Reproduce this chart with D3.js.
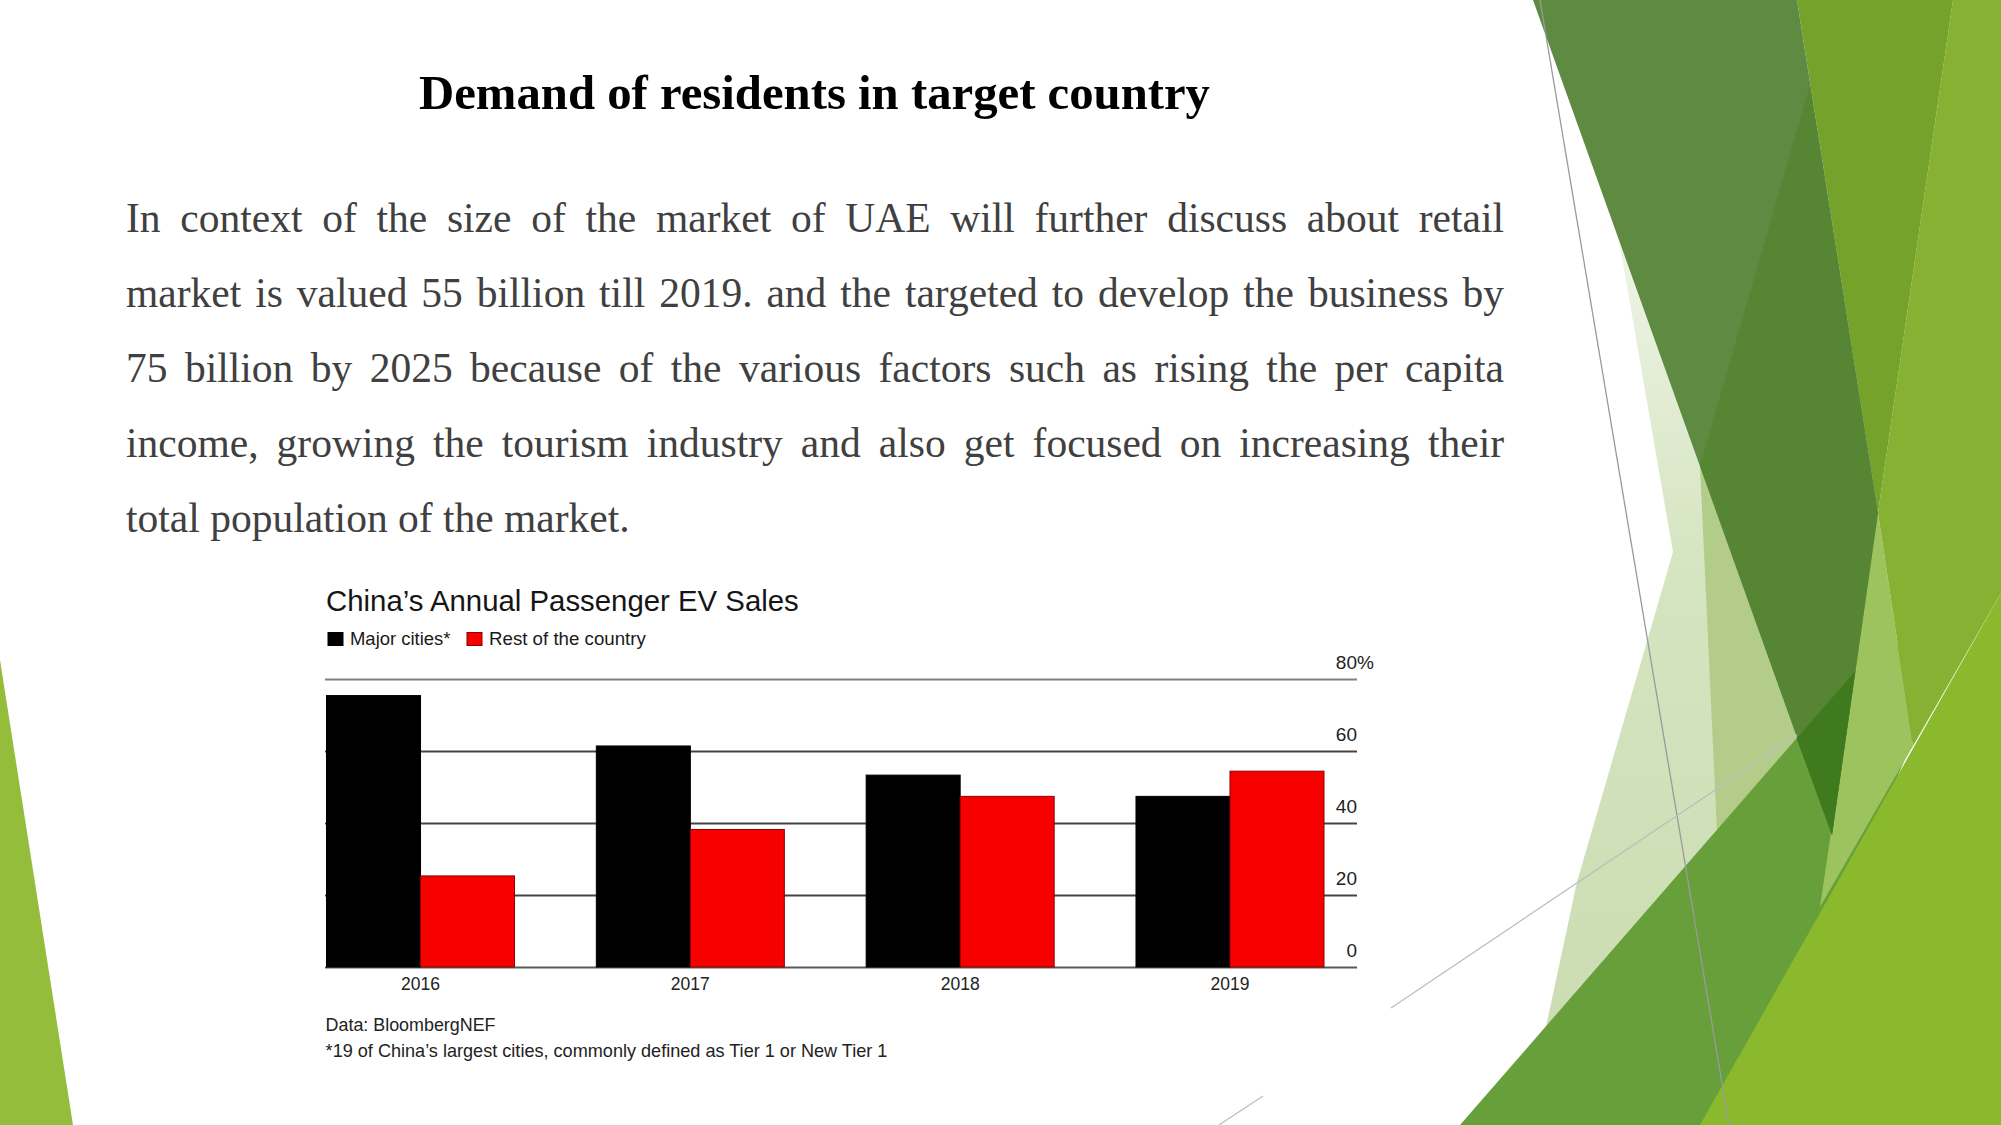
<!DOCTYPE html>
<html><head><meta charset="utf-8">
<script src="https://cdn.jsdelivr.net/npm/d3@7"></script>
<style>html,body{margin:0;padding:0;background:#fff;overflow:hidden}svg{display:block}</style>
</head><body>
<svg id="c" width="2001" height="1125"></svg>
<script>
// ---------- data ----------
const years = ["2016", "2017", "2018", "2019"];
const majorCities = [75.4, 61.4, 53.3, 47.4];
const restOfCountry = [25.3, 38.2, 47.4, 54.4];
const seriesNames = ["Major cities*", "Rest of the country"];
const seriesColors = ["#000000", "#f60000"];
const yTicks = [0, 20, 40, 60, 80];
const yTickLabels = ["0", "20", "40", "60", "80"];
const chartTitle = "China’s Annual Passenger EV Sales";
const sourceNote = "Data: BloombergNEF";
const footNote = "*19 of China’s largest cities, commonly defined as Tier 1 or New Tier 1";
const slideTitle = "Demand of residents in target country";
const paragraphLines = [
  "In context of the size of the market of UAE will further discuss about retail",
  "market is valued 55 billion till 2019. and the targeted to develop the business by",
  "75 billion by 2025 because of the various factors such as rising the per capita",
  "income, growing the tourism industry and also get focused on increasing their",
  "total population of the market."
];

// ---------- decorative slide background (theme shapes) ----------
const decoShapes = [
  {pts: [[0,660],[0,1125],[73,1125]], fill: "#94bd3c"},
  {pts: [[1619,240],[1673,552],[1577,882],[1525,1125],[1760,1125],[1832,835]], fill: "url(#pale)"},
  {pts: [[1700,466],[1832,835],[1717,832]], fill: "#b4cc8a"},
  {pts: [[1460,1125],[1750,1125],[1930,700],[1890,631]], fill: "#67a03a"},
  {pts: [[1878,513],[1913,746],[1820,907]], fill: "#9cc35e"},
  {pts: [[1953,0],[2001,0],[2001,593],[1913,746],[1878,513]], fill: "#86b132"},
  {pts: [[1797,0],[1953,0],[1878,513]], fill: "#74a22a"},
  {pts: [[1533,0],[1797,0],[1878,513],[1832,835]], fill: "#5e8a42"},
  {pts: [[1700,466],[1810,85],[1878,513],[1832,835]], fill: "#568534"},
  {pts: [[1796.6,738.4],[1855.4,671],[1832,835]], fill: "#3f7a1e"},
  {pts: [[1700,1125],[2001,593],[2001,1125]], fill: "#8bb92d"}
];
const decoLines = [
  {a: [1540,0], b: [1729,1125], c: "#9a9a9a"},
  {a: [1391,1008], b: [1797,735], c: "#bdbdbd"},
  {a: [1219,1125], b: [1263,1096], c: "#bdbdbd"}
];

const svg = d3.select("#c");
const defs = svg.append("defs");
const g1 = defs.append("linearGradient").attr("id","pale").attr("x1",0).attr("y1",0).attr("x2",0).attr("y2",1);
g1.append("stop").attr("offset","0").attr("stop-color","#eef4e6");
g1.append("stop").attr("offset","0.35").attr("stop-color","#d6e5c2");
g1.append("stop").attr("offset","1").attr("stop-color","#c9dbae");

svg.append("rect").attr("width",2001).attr("height",1125).attr("fill","#ffffff");
const deco = svg.append("g");
deco.selectAll("polygon").data(decoShapes).join("polygon")
  .attr("points", d => d.pts.map(p => p.join(",")).join(" "))
  .attr("fill", d => d.fill);
deco.selectAll("line").data(decoLines).join("line")
  .attr("x1", d => d.a[0]).attr("y1", d => d.a[1])
  .attr("x2", d => d.b[0]).attr("y2", d => d.b[1])
  .attr("stroke", d => d.c).attr("stroke-width", 1.3);

function fit(sel, target) {
  const w = sel.node().getComputedTextLength();
  const fs = parseFloat(sel.attr("font-size"));
  sel.attr("font-size", (fs * target / w).toFixed(2));
}

// ---------- slide text ----------
const st = svg.append("text").attr("x", 814.5).attr("y", 109.3)
  .attr("text-anchor", "middle")
  .attr("font-family", "'Liberation Serif','Times New Roman',serif")
  .attr("font-weight", "bold").attr("font-size", 45).attr("fill", "#000")
  .text(slideTitle);
fit(st, 791);

const para = svg.append("g")
  .attr("font-family", "'Liberation Serif','Times New Roman',serif")
  .attr("font-size", 41.5).attr("fill", "#404040");
const pLeft = 126, pRight = 1504;
paragraphLines.forEach((line, i) => {
  const yb = 231.7 + i * 75;
  const t = para.append("text").attr("y", yb);
  if (i === paragraphLines.length - 1) {
    t.attr("x", pLeft).text(line);
    return;
  }
  const words = line.split(" ");
  const spans = words.map(w => t.append("tspan").text(w));
  const widths = spans.map(s => s.node().getComputedTextLength());
  const total = d3.sum(widths);
  const gap = (pRight - pLeft - total) / (words.length - 1);
  let xx = pLeft;
  spans.forEach((s, j) => { s.attr("x", xx.toFixed(2)); xx += widths[j] + gap; });
});

// ---------- chart ----------
const chart = svg.append("g").attr("font-family", "'Liberation Sans',Arial,Helvetica,sans-serif");
const gridLeft = 325, gridRight = 1357;
const x0 = d3.scaleBand().domain(years).range([326.5, 1324]).paddingInner(0.3032).paddingOuter(0);
const x1 = d3.scaleBand().domain(seriesNames).range([0, x0.bandwidth()]);
const y = d3.scaleLinear().domain([0, 80]).range([967, 679]);
const color = d3.scaleOrdinal().domain(seriesNames).range(seriesColors);

const ct = chart.append("text").attr("x", 326).attr("y", 610.7)
  .attr("font-size", 28).attr("fill", "#151515").text(chartTitle);
fit(ct, 473);

// legend
const legendX = [328, 467];
const legendTextW = [100.6, 157];
seriesNames.forEach((name, i) => {
  chart.append("rect").attr("x", legendX[i]).attr("y", 632.5).attr("width", 15).attr("height", 13)
    .attr("fill", seriesColors[i]).attr("stroke", i ? "#8a0000" : "#000").attr("stroke-width", 1);
  const lt = chart.append("text").attr("x", legendX[i] + 22).attr("y", 645)
    .attr("font-size", 18.5).attr("fill", "#1a1a1a").text(name);
  fit(lt, legendTextW[i]);
});

// gridlines + right axis
const yAxis = d3.axisRight(y).tickValues(yTicks)
  .tickFormat((d, i) => yTickLabels[i]).tickSize(-(gridRight - gridLeft));
const ga = chart.append("g").attr("transform", `translate(${gridRight},0)`).call(yAxis);
ga.select(".domain").remove();
ga.selectAll(".tick line")
  .attr("stroke", d => d === 80 ? "#808080" : (d === 0 ? "#5a5a5a" : "#444"))
  .attr("stroke-width", 2.2);
ga.selectAll(".tick text")
  .attr("x", 0).attr("y", -11).attr("dy", null)
  .attr("text-anchor", "end").attr("font-size", 19).attr("fill", "#222")
  .attr("font-family", "'Liberation Sans',Arial,sans-serif");
ga.selectAll(".tick").filter(d => d === 80).append("text")
  .attr("x", 0).attr("y", -11).attr("text-anchor", "start")
  .attr("font-size", 19).attr("fill", "#222")
  .attr("font-family", "'Liberation Sans',Arial,sans-serif").text("%");

// bars
const rows = years.map((yr, i) => ({year: yr, values: [majorCities[i], restOfCountry[i]]}));
const groups = chart.append("g").selectAll("g").data(rows).join("g")
  .attr("transform", d => `translate(${x0(d.year)},0)`);
groups.selectAll("rect").data(d => d.values.map((v, k) => ({key: seriesNames[k], v})))
  .join("rect")
  .attr("x", d => x1(d.key))
  .attr("width", x1.bandwidth())
  .attr("y", d => y(d.v))
  .attr("height", d => y(0) - y(d.v))
  .attr("fill", d => color(d.key))
  .attr("stroke", d => d.key === seriesNames[1] ? "#900000" : "#000")
  .attr("stroke-width", 1);

// x axis
const xAxis = d3.axisBottom(x0).tickSize(0);
const gx = chart.append("g").attr("transform", `translate(0,${y(0)})`).call(xAxis);
gx.select(".domain").remove();
gx.selectAll("text").attr("y", 23).attr("dy", null)
  .attr("font-size", 17.5).attr("fill", "#222")
  .attr("font-family", "'Liberation Sans',Arial,sans-serif");

// notes
const s1 = chart.append("text").attr("x", 325.6).attr("y", 1030.7)
  .attr("font-size", 18).attr("fill", "#222").text(sourceNote);
fit(s1, 170);
const s2 = chart.append("text").attr("x", 325.6).attr("y", 1056.7)
  .attr("font-size", 18).attr("fill", "#222").text(footNote);
fit(s2, 562);
</script>
</body></html>
